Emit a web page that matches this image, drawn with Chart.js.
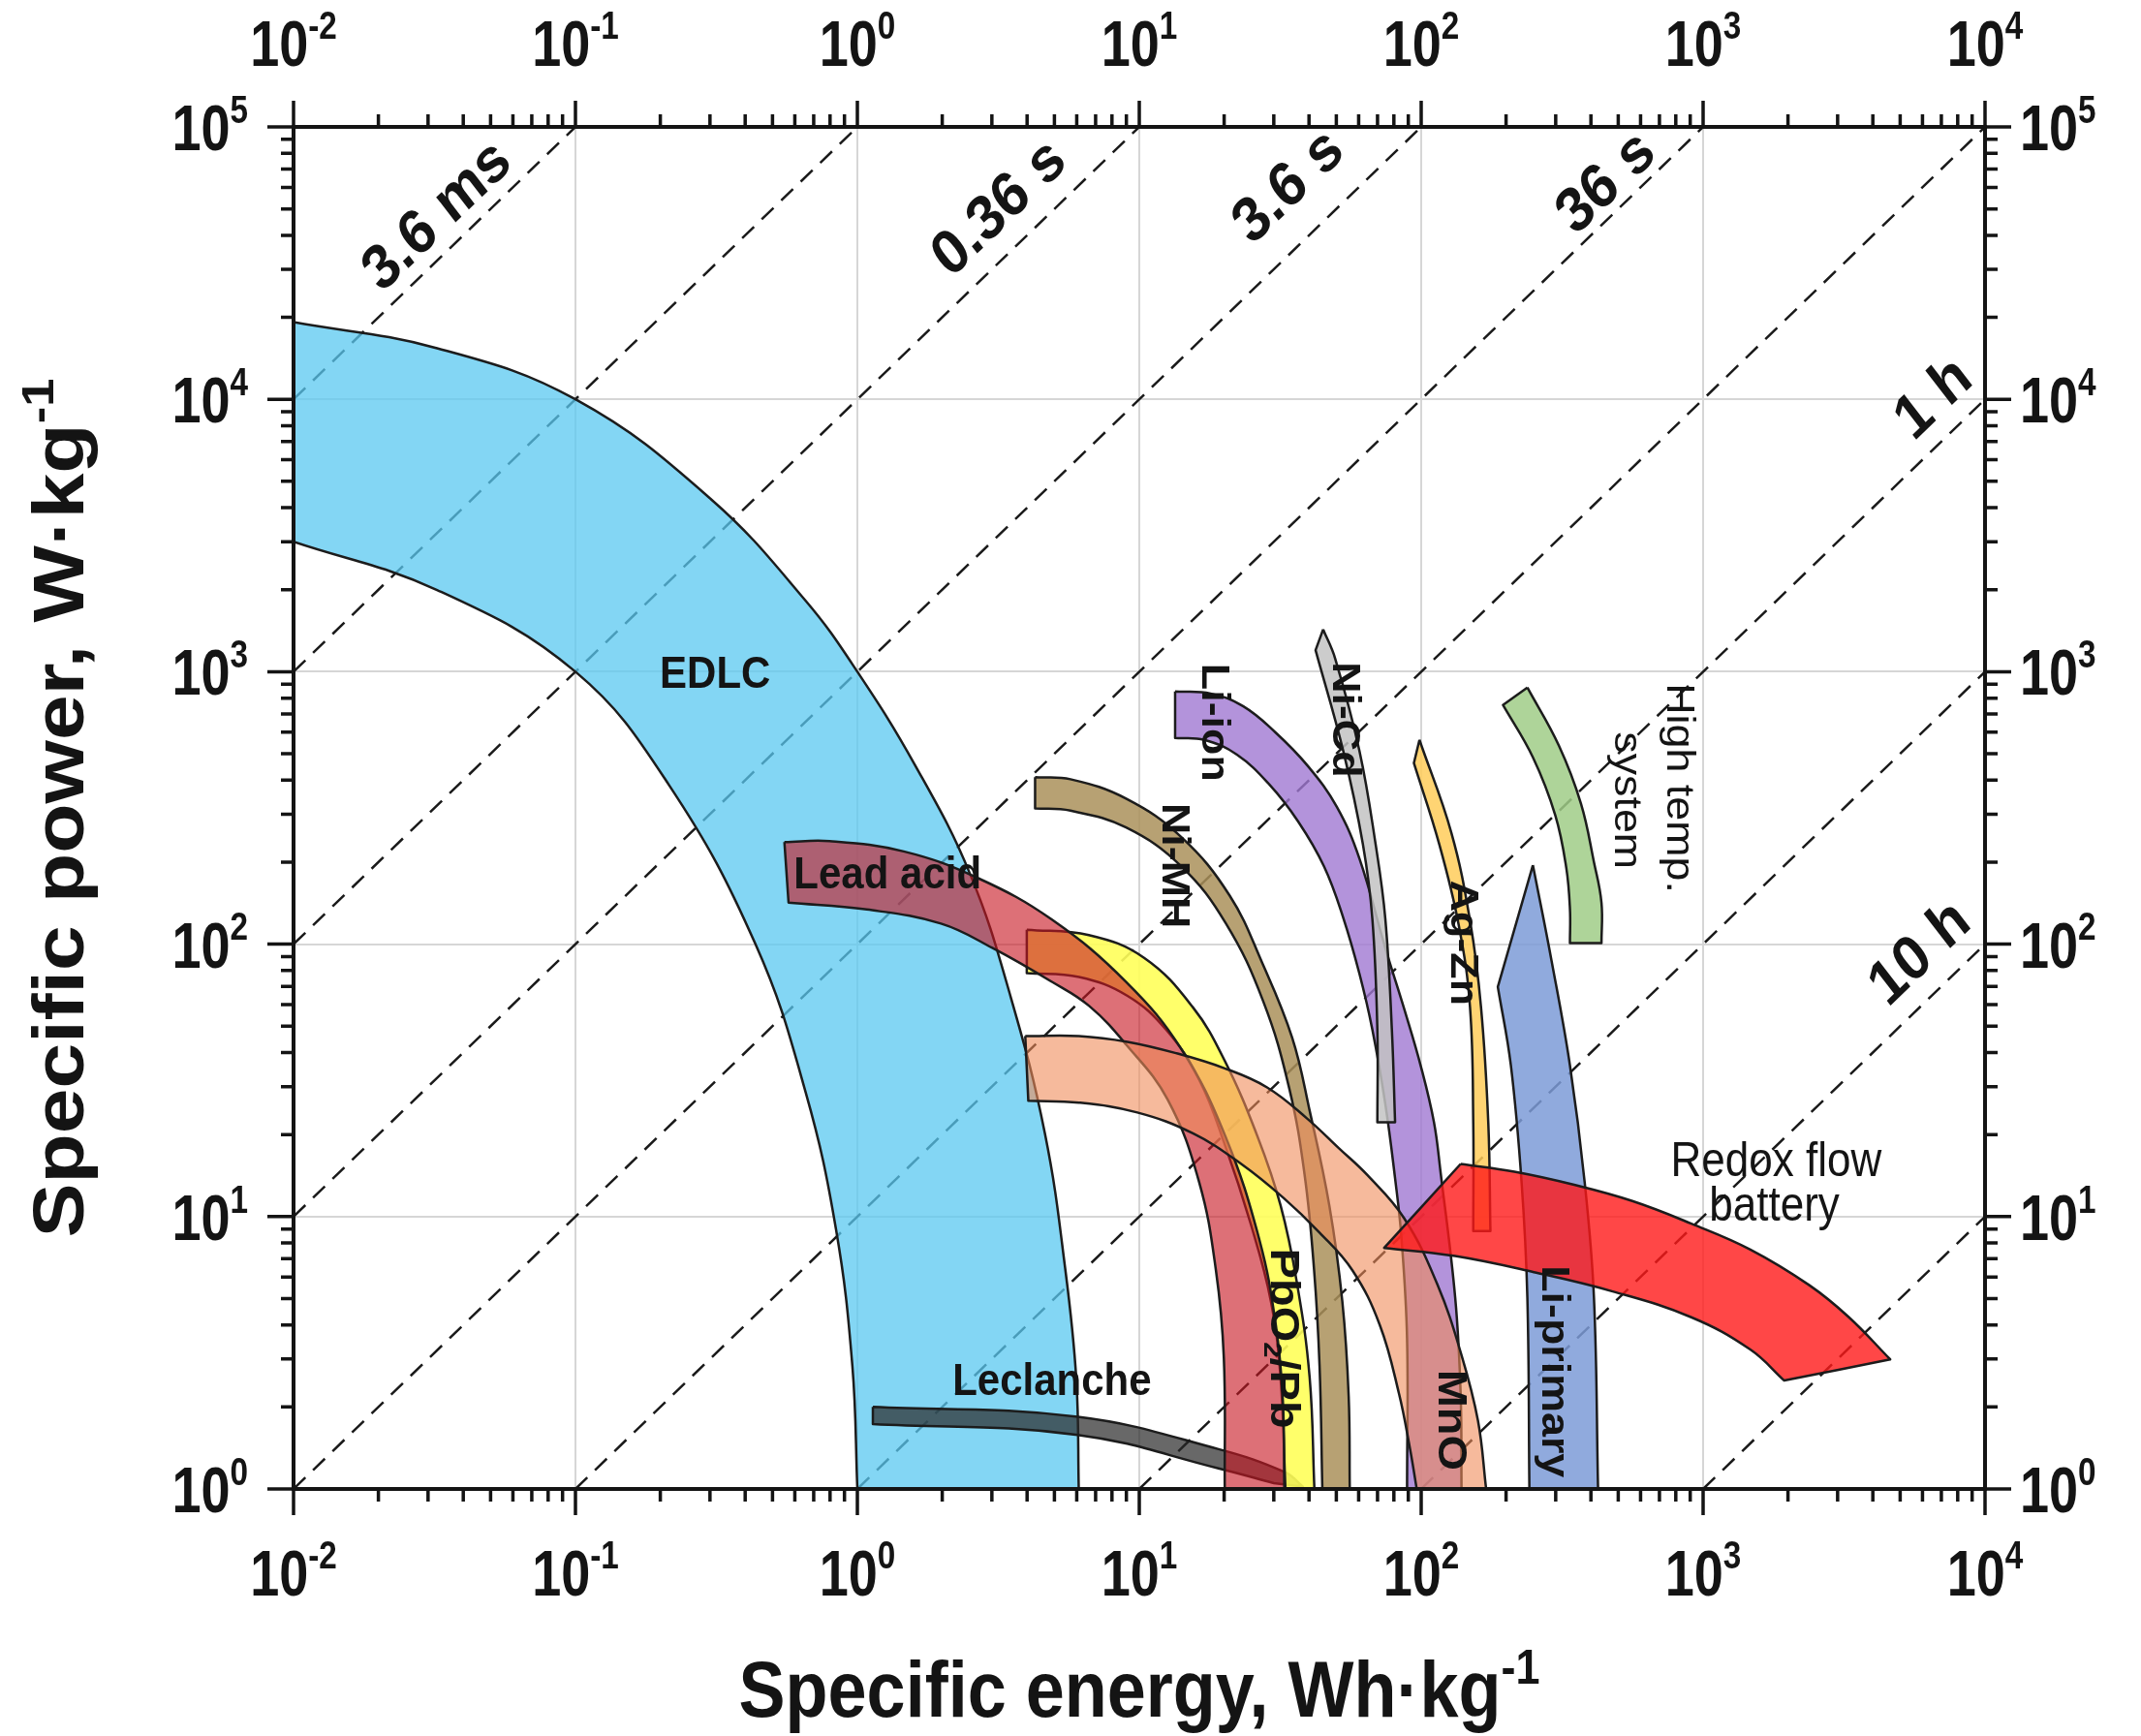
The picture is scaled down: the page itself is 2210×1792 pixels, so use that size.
<!DOCTYPE html>
<html>
<head>
<meta charset="utf-8">
<script src="https://cdn.jsdelivr.net/npm/chart.js@4.4.1/dist/chart.umd.min.js"></script>
<style>
  html, body { margin: 0; padding: 0; background: #fff; }
  #wrap { width: 2210px; height: 1792px; }
</style>
</head>
<body>
<div id="wrap"><canvas id="ragone" width="2210" height="1792"></canvas></div>
<script>
// Ragone plot: specific power vs specific energy (log-log)

// --- axis ticks ---
const xTickValues = [0.01, 0.1, 1, 10, 100, 1000, 10000];
const xTickExp = ['-2', '-1', '0', '1', '2', '3', '4'];
const yTickValues = [1, 10, 100, 1000, 10000, 100000];
const yTickExp = ['0', '1', '2', '3', '4', '5'];
const minorSteps = [2, 3, 4, 5, 6, 7, 8, 9];

// --- constant discharge-time guide lines (start / end point, [E, P]) ---
const guideStarts = [[0.01, 1e4], [0.01, 1e3], [0.01, 100], [0.01, 10], [0.01, 1], [0.1, 1], [1, 1], [10, 1], [100, 1], [1000, 1]];
const guideEnds = [[0.1, 1e5], [1, 1e5], [10, 1e5], [100, 1e5], [1000, 1e5], [1e4, 1e5], [1e4, 1e4], [1e4, 1e3], [1e4, 100], [1e4, 10]];
const guideLabels = ['3.6 ms', '0.36 s', '3.6 s', '36 s', '1 h', '10 h'];
const guideLabelE = [0.0325, 3.2, 34, 455, 6600, 5900];
const guideLabelP = [46800, 50000, 60000, 62000, 10000, 92];

// --- technology regions, each as two edges of [E (Wh/kg), P (W/kg)] ---
const edlcOuter = [[0.01, 19200], [0.0323, 15400], [0.1, 10000], [0.301, 4320], [0.656, 1820], [1.0, 1000], [1.60, 455], [2.51, 181], [3.50, 63.9], [4.63, 20.1], [5.47, 6.35], [5.98, 2.52], [6.1, 1]];
const edlcInner = [[0.01, 3000], [0.0323, 1995], [0.1, 1000], [0.215, 383], [0.435, 100], [0.656, 28.5], [0.84, 8.97], [0.96, 2.83], [1.0, 1]];

const leclUpper = [[1.135, 2.0], [6.05, 1.84], [19.1, 1.40], [33, 1.15], [38, 1.02]];
const leclLower = [[1.135, 1.73], [6.05, 1.58], [19.1, 1.19], [30, 1.05]];

const pbOuter = [[3.99, 113], [6.62, 108], [10.4, 89.1], [15.5, 58.6], [20.1, 37.3], [26.3, 19.6], [31.7, 11.0], [36.2, 5.75], [40.2, 2.57], [41.8, 1]];
const pbInner = [[3.99, 78.3], [6.11, 75.8], [9.08, 64.6], [12.5, 48.3], [16.3, 31.8], [20.1, 18.4], [24.9, 9.33], [29.3, 4.89], [31.7, 2.57], [33.0, 1]];

const leadOuter = [[0.551, 237], [0.797, 239], [1.46, 219], [2.67, 175], [4.9, 123], [8.98, 72.7], [14.1, 41.2], [20.2, 19.7], [26.7, 8.18], [30.5, 4.0], [32.3, 2.12], [32.7, 1]];
const leadInner = [[0.570, 142], [1.08, 134], [1.98, 119], [3.02, 96.7], [4.9, 72.7], [6.64, 59.3], [8.98, 42.8], [12.6, 26.9], [16.3, 13.4], [18.7, 6.35], [19.95, 3.03], [20.1, 1]];

const nimhOuter = [[4.27, 410], [5.70, 403], [8.98, 342], [14.1, 247], [20.9, 151], [27.3, 85.3], [34.9, 45.2], [40.2, 24.5], [47.2, 11.0], [52.5, 4.89], [55.3, 2.19], [55.8, 1]];
const nimhInner = [[4.27, 315], [5.70, 309], [8.98, 268], [14.1, 193], [20.3, 119], [27.5, 61.8], [34.0, 29.7], [38.6, 14.2], [41.7, 6.35], [43.6, 2.83], [44.6, 1]];

const liionOuter = [[13.4, 846], [17.9, 832], [23.4, 746], [30.4, 599], [39.6, 451], [50.2, 319], [60.4, 206], [74.6, 96.8], [87.5, 56.8], [99.8, 35.5], [111, 22.2], [117, 14.7], [132, 5.04], [138, 2.24], [139, 1]];
const liionInner = [[13.4, 571], [17.0, 562], [22.2, 496], [28.9, 386], [36.6, 282], [45.2, 193], [52.9, 125], [60.4, 77.8], [67.1, 48.6], [74.6, 25.9], [80.8, 13.8], [85.1, 8.37], [89.1, 3.56], [89.1, 1]];

const nicdRight = [[44.9, 1430], [49.5, 1120], [60.4, 512], [68.9, 233], [74.6, 124], [78.7, 48.6], [80.8, 22.2]];
const nicdLeft = [[42.2, 1200], [52.9, 512], [62.1, 233], [67.1, 124], [69.9, 48.6], [69.9, 22.2]];

const agznRight = [[98.6, 562], [128, 256], [149, 122], [163, 58.7], [173, 22.0], [176, 8.85]];
const agznLeft = [[94.2, 462], [116, 232], [136, 117], [149, 58.7], [153, 22.0], [153, 8.85]];

const htOuter = [[238, 875], [308, 535], [369, 327], [410, 200], [436, 142], [436, 101]];
const htInner = [[195, 755], [249, 485], [299, 297], [327, 191], [337, 135], [337, 101]];

const lipRight = [[249, 195], [290, 86.9], [337, 35.9], [380, 13.4], [410, 5.04], [424, 1]];
const lipLeft = [[187, 69.7], [208, 35.9], [227, 13.4], [238, 5.04], [242, 1]];

const mnoOuter = [[3.94, 46.0], [6.11, 46.0], [9.08, 43.8], [13.5, 39.8], [20.1, 35.0], [28.4, 29.8], [39.2, 23.0], [51.1, 17.8], [64.4, 14.2], [87.1, 9.84], [114, 5.65], [139, 3.10], [159, 1.78], [170, 1]];
const mnoInner = [[4.04, 26.6], [6.11, 26.2], [9.84, 24.1], [15.5, 20.2], [23.0, 15.6], [32.5, 11.7], [43.5, 8.75], [57.0, 6.35], [71.3, 4.0], [83.4, 2.24], [91.2, 1.41], [96.4, 1]];

const redoxUpper = [[138, 15.6], [214, 14.6], [346, 13.1], [561, 11.4], [908, 9.42], [1470, 7.57], [2380, 5.60], [3290, 4.27], [4610, 2.99]];
const redoxLower = [[73.9, 7.67], [132, 7.16], [251, 6.25], [478, 5.31], [908, 4.27], [1470, 3.25], [1940, 2.50]];

// --- region labels (anchor in data units) ---
const regionLabels = ['EDLC', 'Lead acid', 'Leclanche', 'Ni-MH', 'Li-ion', 'Ni-Cd', 'Ag-Zn', 'High temp.', 'system', 'PbO2/Pb', 'MnO', 'Li-primary', 'Redox flow', 'battery'];
const regionLabelE = [0.313, 1.28, 4.9, 13.2, 18.3, 53, 140, 813, 531, 32.2, 126, 294, 1815, 1790];
const regionLabelP = [973, 178, 2.46, 194, 651, 667, 101, 374, 337, 3.57, 1.79, 2.7, 15.8, 10.8];

// ---------------- styles ----------------
const FONT = '"Liberation Sans", Arial, Helvetica, sans-serif';
const SY = 1.12; // glyphs in the figure are slightly tall
const INK = '#141414';

const regionStyles = [
  { a: edlcOuter, b: edlcInner, fill: 'rgba(90,200,240,0.75)' },
  { a: leclUpper, b: leclLower, fill: 'rgba(40,40,40,0.7)' },
  { a: pbOuter, b: pbInner, fill: 'rgba(255,255,90,0.9)' },
  { a: leadOuter, b: leadInner, fill: 'rgba(200,25,35,0.62)' },
  { a: nimhOuter, b: nimhInner, fill: 'rgba(170,145,90,0.85)' },
  { a: liionOuter, b: liionInner, fill: 'rgba(160,120,210,0.8)' },
  { a: nicdRight, b: nicdLeft, fill: 'rgba(195,195,195,0.85)' },
  { a: agznRight, b: agznLeft, fill: 'rgba(255,205,90,0.85)' },
  { a: htOuter, b: htInner, fill: 'rgba(160,205,135,0.85)' },
  { a: lipRight, b: lipLeft, fill: 'rgba(125,155,215,0.85)' },
  { a: mnoOuter, b: mnoInner, fill: 'rgba(240,140,90,0.6)' },
  { a: redoxUpper, b: redoxLower, fill: 'rgba(255,25,25,0.8)' }
];

// rotation (0 = horizontal, 1 = turned 90° clockwise) and weight per region label
const regionLabelRot = [0, 0, 0, 1, 1, 1, 1, 1, 1, 1, 1, 1, 0, 0];
const regionLabelBold = [1, 1, 1, 1, 1, 1, 1, 0, 0, 1, 1, 1, 0, 0];
const regionLabelSize = [42, 42, 42, 40, 40, 40, 40, 40, 40, 42, 42, 40, 44, 44];

const toXY = pts => pts.map(([x, y]) => ({ x, y }));

// closes two edges into one outline; corner points are doubled so the curve stays sharp there
function closedOutline(edgeA, edgeB) {
  const back = edgeB.slice().reverse();
  const first = edgeA[0], last = edgeA[edgeA.length - 1];
  return toXY([...edgeA, last, back[0], ...back, back[back.length - 1], first]);
}

const guideSets = guideStarts.map((s, i) => ({
  data: toXY([s, guideEnds[i]]),
  borderColor: '#1a1a1a',
  borderWidth: 2.5,
  borderDash: [17, 11],
  pointRadius: 0,
  fill: false,
  tension: 0
}));

const regionSets = regionStyles.map(st => ({
  data: closedOutline(st.a, st.b),
  backgroundColor: st.fill,
  borderColor: '#1c1c1c',
  borderWidth: 2.5,
  borderJoinStyle: 'round',
  fill: 'shape',
  tension: 0.4,
  pointRadius: 0
}));

const allSets = [...guideSets, ...regionSets];
allSets.forEach((d, i) => { d.order = allSets.length - i; });

// text with optional sub (-1) / sup (+1) parts
function richText(ctx, parts, x, y, o) {
  const { rot = 0, size, weight = 'bold', align = 'center', baseline = 'middle', sx = 1 } = o;
  const small = Math.round(size * 0.62);
  ctx.save();
  ctx.translate(x, y);
  ctx.scale(sx, SY);
  ctx.rotate(rot);
  ctx.fillStyle = INK;
  ctx.textBaseline = baseline;
  ctx.textAlign = 'left';
  const ws = parts.map(([t, s]) => {
    ctx.font = `${weight} ${s ? small : size}px ${FONT}`;
    return ctx.measureText(t).width;
  });
  const total = ws.reduce((p, c) => p + c, 0);
  let cx = align === 'center' ? -total / 2 : align === 'right' ? -total : 0;
  parts.forEach(([t, s], i) => {
    ctx.font = `${weight} ${s ? small : size}px ${FONT}`;
    const dy = s === 1 ? -size * 0.42 : s === -1 ? size * 0.28 : 0;
    ctx.fillText(t, cx, dy);
    cx += ws[i];
  });
  ctx.restore();
}

const decor = {
  id: 'decor',
  afterDatasetsDraw(chart) {
    const { ctx, chartArea: a, scales: { x, y } } = chart;
    ctx.save();

    // frame
    ctx.strokeStyle = INK;
    ctx.lineWidth = 4;
    ctx.strokeRect(a.left, a.top, a.right - a.left, a.bottom - a.top);

    // ticks on all four sides, pointing outward
    ctx.lineWidth = 3.5;
    ctx.beginPath();
    xTickValues.forEach((v, i) => {
      const px = x.getPixelForValue(v);
      ctx.moveTo(px, a.bottom); ctx.lineTo(px, a.bottom + 27);
      ctx.moveTo(px, a.top); ctx.lineTo(px, a.top - 27);
      if (i < xTickValues.length - 1) minorSteps.forEach(m => {
        const q = x.getPixelForValue(v * m);
        ctx.moveTo(q, a.bottom); ctx.lineTo(q, a.bottom + 13);
        ctx.moveTo(q, a.top); ctx.lineTo(q, a.top - 13);
      });
    });
    yTickValues.forEach((v, i) => {
      const py = y.getPixelForValue(v);
      ctx.moveTo(a.left, py); ctx.lineTo(a.left - 27, py);
      ctx.moveTo(a.right, py); ctx.lineTo(a.right + 27, py);
      if (i < yTickValues.length - 1) minorSteps.forEach(m => {
        const q = y.getPixelForValue(v * m);
        ctx.moveTo(a.left, q); ctx.lineTo(a.left - 13, q);
        ctx.moveTo(a.right, q); ctx.lineTo(a.right + 13, q);
      });
    });
    ctx.stroke();

    // tick labels 10^n
    const tk = { size: 60, baseline: 'alphabetic', sx: 0.9 };
    xTickValues.forEach((v, i) => {
      const px = x.getPixelForValue(v);
      const parts = [['10', 0], [xTickExp[i], 1]];
      richText(ctx, parts, px, a.bottom + 110, { ...tk, align: 'center' });
      richText(ctx, parts, px, a.top - 63, { ...tk, align: 'center' });
    });
    yTickValues.forEach((v, i) => {
      const py = y.getPixelForValue(v) + 24;
      const parts = [['10', 0], [yTickExp[i], 1]];
      richText(ctx, parts, a.left - 47, py, { ...tk, align: 'right' });
      richText(ctx, parts, a.right + 36, py, { ...tk, align: 'left' });
    });

    // axis titles
    const cxm = (a.left + a.right) / 2, cym = (a.top + a.bottom) / 2;
    richText(ctx, [['Specific energy, Wh\u00B7kg', 0], ['-1', 1]], cxm, 1772, { size: 72, baseline: 'alphabetic' });
    richText(ctx, [['Specific power, W\u00B7kg', 0], ['-1', 1]], 86, cym, { size: 75, baseline: 'alphabetic', rot: -Math.PI / 2 });

    // duration labels along the guide lines
    const dxp = x.getPixelForValue(10) - x.getPixelForValue(1);
    const dyp = y.getPixelForValue(10) - y.getPixelForValue(1);
    const theta = Math.atan2(dyp / SY, dxp);
    guideLabels.forEach((t, i) => {
      richText(ctx, [[t, 0]], x.getPixelForValue(guideLabelE[i]), y.getPixelForValue(guideLabelP[i]), { size: 58, rot: theta });
    });

    // region labels
    regionLabels.forEach((t, i) => {
      const parts = t === 'PbO2/Pb' ? [['PbO', 0], ['2', -1], ['/Pb', 0]] : [[t, 0]];
      richText(ctx, parts, x.getPixelForValue(regionLabelE[i]), y.getPixelForValue(regionLabelP[i]), {
        size: regionLabelSize[i],
        weight: regionLabelBold[i] ? 'bold' : 'normal',
        rot: regionLabelRot[i] ? Math.PI / 2 : 0
      });
    });

    ctx.restore();
  }
};

const decadeTicks = values => scale => { scale.ticks = values.map(v => ({ value: v })); };

new Chart(document.getElementById('ragone'), {
  type: 'line',
  data: { datasets: allSets },
  options: {
    responsive: false,
    animation: false,
    devicePixelRatio: 1,
    layout: { padding: { left: 303, right: 161, top: 131, bottom: 255 } },
    plugins: { legend: { display: false }, tooltip: { enabled: false } },
    scales: {
      x: {
        type: 'logarithmic', min: 0.01, max: 10000,
        afterBuildTicks: decadeTicks(xTickValues),
        ticks: { display: false },
        grid: { color: '#d6d6d6', lineWidth: 2, drawTicks: false },
        border: { display: false }
      },
      y: {
        type: 'logarithmic', min: 1, max: 100000,
        afterBuildTicks: decadeTicks(yTickValues),
        ticks: { display: false },
        grid: { color: '#d6d6d6', lineWidth: 2, drawTicks: false },
        border: { display: false }
      }
    }
  },
  plugins: [decor]
});
</script>
</body>
</html>
